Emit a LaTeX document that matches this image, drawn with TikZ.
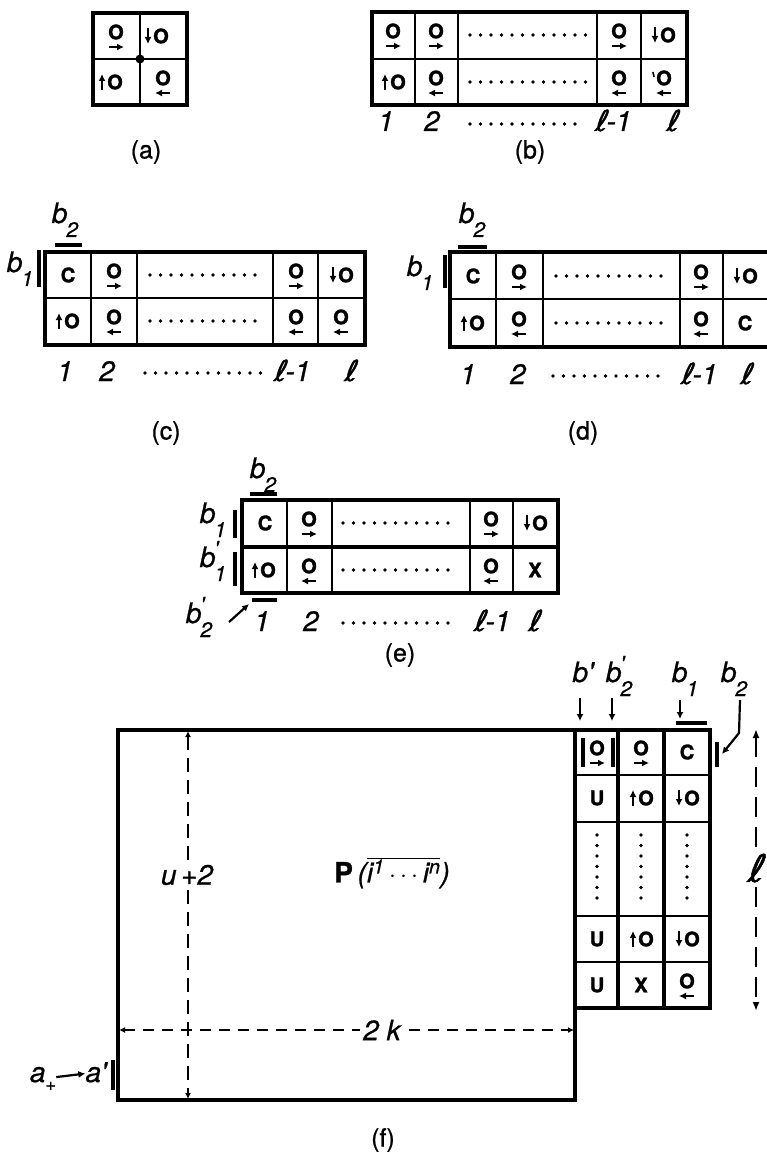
\documentclass[tikz,border=0pt]{standalone}
\usepackage{fontspec}
\setsansfont{TeX Gyre Heros}
\newfontfamily\cellfont[FakeBold=1.5]{TeX Gyre Heros}
\newfontfamily\labfont[FakeBold=0.8]{TeX Gyre Heros}
\newfontfamily\ellfont[FakeBold=1.2,FakeSlant=0.2]{DejaVu Sans}
\usetikzlibrary{arrows.meta}
\tikzset{>=Latex,
  frame/.style={line width=3.4pt},
  innerline/.style={line width=2.2pt},
  cellt/.style={font=\fontsize{20}{20}\selectfont\cellfont\bfseries,inner sep=0pt},
  lab/.style={font=\fontsize{28}{28}\selectfont\labfont\itshape,inner sep=0pt,anchor=base},
  capt/.style={font=\fontsize{25}{25}\selectfont\labfont,inner sep=0pt},
  smallarrow/.style={-{Latex[length=7pt,width=7pt]},line width=2.2pt},
  dotrow/.style={line width=3.6pt,line cap=round,dash pattern=on 0pt off 10.5pt},
  markbar/.style={line width=3.4pt},
  dimline/.style={line width=2.6pt,dash pattern=on 14pt off 8pt},
  cut/.style={fill=white,inner sep=3pt}}
% cell contents: name, x of the O, y of the row centre
\newcommand{\cellOR}[3]{\node[cellt] (#1) at (#2,#3-4) {O};
  \draw[smallarrow] (#2-7,#3+11) -- (#2+8,#3+11);}
\newcommand{\cellOL}[3]{\node[cellt] (#1) at (#2,#3-4) {O};
  \draw[smallarrow] (#2+7,#3+11) -- (#2-8,#3+11);}
\newcommand{\cellDO}[3]{\node[cellt] (#1) at (#2,#3) {O};
  \draw[smallarrow] (#2-13,#3-8) -- (#2-13,#3+8);}
\newcommand{\cellUO}[3]{\node[cellt] (#1) at (#2,#3) {O};
  \draw[smallarrow] (#2-13,#3+8) -- (#2-13,#3-8);}
% b with subscript, b with subscript and prime, the script l
\newcommand{\bsub}[2]{#1\kern-1pt\raisebox{-0.5em}{\fontsize{21}{21}\selectfont #2}}
\newcommand{\bsubp}[2]{#1\kern-1pt\rlap{\raisebox{0.4em}{\fontsize{21}{21}\selectfont '}}\raisebox{-0.5em}{\fontsize{21}{21}\selectfont #2}}
\newcommand{\ellx}{{\fontsize{29}{29}\selectfont\ellfont ℓ}}
\newcommand{\ellbig}{{\fontsize{38}{38}\selectfont\ellfont ℓ}}

\begin{document}
\begin{tikzpicture}[x=1pt,y=-1pt]
\useasboundingbox (0,0) rectangle (767,1155);

% (a)
\draw[frame] (93,13) rectangle (187,105);
\draw[innerline] (140,13) -- (140,105) (93,59) -- (187,59);
\fill (140,59) circle (4.5pt);
\cellOR{a11}{116}{36}
\cellDO{a12}{161}{36}
\cellUO{a21}{115}{82}
\cellOL{a22}{163}{82}
\node[capt] (capa) at (146,152) {(a)};

% (b)
\draw[frame] (372,12) rectangle (687,105);
\draw[innerline] (372,59) -- (687,59);
\foreach \x in {415,458,597,641} \draw[innerline] (\x,12) -- (\x,105);
\cellOR{b11}{393}{35}
\cellOR{b12}{436}{35}
\draw[dotrow] (470,35) -- (586,35);
\cellOR{b14}{619}{35}
\cellDO{b15}{668}{35}
\cellUO{b21}{398}{82}
\cellOL{b22}{436}{82}
\draw[dotrow] (470,82) -- (586,82);
\cellOL{b24}{619}{82}
\cellOL{b25}{664}{82}
\draw[line width=1.6pt] (653,72) -- (654,77);
\node[lab] (bn1) at (386,131) {1};
\node[lab] (bn2) at (432,131) {2};
\draw[dotrow] (470,124) -- (583,124);
\node[lab] (bnl1) at (613,131) {\ellx-1};
\node[lab] (bnl) at (672,131) {\ellx};
\node[capt] (capb) at (530,152) {(b)};

% (c)
\draw[frame] (45,252) rectangle (365,345);
\draw[innerline] (45,298) -- (365,298);
\foreach \x in {91,137,273,318} \draw[innerline] (\x,252) -- (\x,345);
\node[cellt] (c11) at (68,275) {C};
\cellOR{c12}{114}{275}
\draw[dotrow] (150,275) -- (262,275);
\cellOR{c14}{296}{275}
\cellDO{c15}{346}{275}
\cellUO{c21}{72}{321}
\cellOL{c22}{114}{321}
\draw[dotrow] (150,321) -- (262,321);
\cellOL{c24}{296}{321}
\cellOL{c25}{341}{321}
\node[lab] (cb2) at (65,223) {\bsub{b}{2}};
\draw[markbar] (55,245) -- (82,245);
\node[lab] (cb1) at (20,272) {\bsub{b}{1}};
\draw[markbar] (39,250) -- (39,287);
\node[lab] (cn1) at (65,381) {1};
\node[lab] (cn2) at (107,381) {2};
\draw[dotrow] (145,373) -- (265,373);
\node[lab] (cnl1) at (292,381) {\ellx-1};
\node[lab] (cnl) at (350,381) {\ellx};
\node[capt] (capc) at (166,433) {(c)};

% (d)
\draw[frame] (450,252) rectangle (769,347);
\draw[innerline] (450,299) -- (769,299);
\foreach \x in {496,543,680,723} \draw[innerline] (\x,252) -- (\x,347);
\node[cellt] (d11) at (473,276) {C};
\cellOR{d12}{519}{276}
\draw[dotrow] (556,276) -- (668,276);
\cellOR{d14}{701}{276}
\cellDO{d15}{750}{276}
\cellUO{d21}{477}{323}
\cellOL{d22}{519}{323}
\draw[dotrow] (556,323) -- (668,323);
\cellOL{d24}{701}{323}
\node[cellt] (d25) at (745,323) {C};
\node[lab] (db2) at (472,223) {\bsub{b}{2}};
\draw[markbar] (458,247) -- (487,247);
\node[lab] (db1) at (420,276) {\bsub{b}{1}};
\draw[markbar] (445,255) -- (445,288);
\node[lab] (dn1) at (468,384) {1};
\node[lab] (dn2) at (518,384) {2};
\draw[dotrow] (553,376) -- (667,376);
\node[lab] (dnl1) at (699,384) {\ellx-1};
\node[lab] (dnl) at (746,384) {\ellx};
\node[capt] (capd) at (583,433) {(d)};

% (e)
\draw[frame] (242,500) rectangle (558,593);
\draw[frame] (242,547) -- (558,547);
\foreach \x in {287,332,470,513} \draw[innerline] (\x,500) -- (\x,593);
\node[cellt] (e11) at (265,523) {C};
\cellOR{e12}{309}{523}
\draw[dotrow] (343,523) -- (457,523);
\cellOR{e14}{491}{523}
\cellDO{e15}{540}{523}
\cellUO{e21}{268}{570}
\cellOL{e22}{309}{570}
\draw[dotrow] (343,570) -- (457,570);
\cellOL{e24}{491}{570}
\node[cellt] (e25) at (535,570) {X};
\node[lab] (eb2) at (263,478) {\bsub{b}{2}};
\draw[markbar] (250,494) -- (277,494);
\node[lab] (eb1) at (213,523) {\bsub{b}{1}};
\draw[markbar] (235,510) -- (235,538);
\node[lab] (eb1p) at (213,567) {\bsubp{b}{1}};
\draw[markbar] (235,552) -- (235,586);
\node[lab] (en1) at (262,631) {1};
\draw[markbar] (252,600) -- (277,600);
\node[lab] (eb2p) at (199,623) {\bsubp{b}{2}};
\coordinate (eb2pt) at (249,604);
\draw[smallarrow] (229,622) -- (eb2pt);
\node[lab] (en2) at (311,631) {2};
\draw[dotrow] (343,623) -- (457,623);
\node[lab] (enl1) at (492,631) {\ellx-1};
\node[lab] (enl) at (534,631) {\ellx};
\node[capt] (cape) at (400,655) {(e)};

% (f)
\draw[frame] (118,730) rectangle (575,1100);
\draw[frame] (575,730) rectangle (710,1008);
\foreach \x in {618,664} \draw[frame] (\x,730) -- (\x,1008);
\foreach \y in {775,822,916,962} \draw[innerline] (575,\y) -- (710,\y);
\cellOR{f11}{597}{752}
\draw[markbar] (583,738) -- (583,767) (613,738) -- (613,767);
\cellOR{f12}{641}{752}
\node[cellt] (f13) at (687,752) {C};
\node[cellt] (f21) at (597,798) {U};
\cellUO{f22}{646}{798}
\cellDO{f23}{692}{798}
\foreach \x in {597,641,687} \draw[dotrow] (\x,835) -- (\x,905);
\node[cellt] (f41) at (597,939) {U};
\cellUO{f42}{646}{939}
\cellDO{f43}{692}{939}
\node[cellt] (f51) at (597,985) {U};
\node[cellt] (f52) at (641,985) {X};
\cellOL{f53}{687}{985}
% labels above the columns
\node[lab] (fbp) at (583,682) {b'};
\node[lab] (fb2p) at (619,682) {\bsubp{b}{2}};
\node[lab] (fb1) at (685,682) {\bsub{b}{1}};
\node[lab] (fb2) at (734,682) {\bsub{b}{2}};
\draw[smallarrow] (580,698) -- (580,721);
\draw[smallarrow] (612,698) -- (612,721);
\draw[smallarrow] (680,700) -- (680,719);
\draw[markbar] (676,723) -- (707,723);
\coordinate (fb2t) at (722,754);
\draw[smallarrow] (740,700) -- (739,733) -- (fb2t);
\draw[markbar] (717,742) -- (717,767);
% dimensions
\coordinate (fltop) at (756,729);
\coordinate (flbot) at (756,1011);
\draw[line width=2.8pt,dash pattern=on 20pt off 10pt,{Latex[length=9pt,width=7pt]}-{Latex[length=9pt,width=7pt]}] (fltop) -- (flbot);
\node[lab,cut,anchor=center] (fl) at (755,868) {\ellbig};
\coordinate (futop) at (188,731);
\coordinate (fubot) at (188,1099);
\draw[dimline,{Latex[length=6pt,width=6pt]}-{Latex[length=6pt,width=6pt]}] (futop) -- (fubot);
\node[lab,cut,anchor=center] (fu) at (187,875) {u\,+2};
\coordinate (fkl) at (119,1030);
\coordinate (fkr) at (574,1030);
\draw[dimline,dash pattern=on 11pt off 8pt,{Latex[length=6pt,width=6pt]}-{Latex[length=6pt,width=6pt]}] (fkl) -- (fkr);
\node[lab,cut,anchor=center] (fk) at (382,1030) {2 k};
\node[lab,anchor=center] (fp) at (392,873) {{\upshape\bfseries P}\,($\overline{\mbox{i\textsuperscript{1}\,$\cdots$\,i\textsuperscript{n}}}$)};
\node[lab] (fa) at (43,1082) {a\raisebox{-0.3em}{\fontsize{18}{18}\selectfont +}};
\node[lab] (fap) at (96,1082) {a'};
\draw[smallarrow] (fa) -- (fap);
\draw[markbar] (113,1060) -- (113,1090);
\node[capt] (capf) at (383,1140) {(f)};
\end{tikzpicture}
\end{document}
